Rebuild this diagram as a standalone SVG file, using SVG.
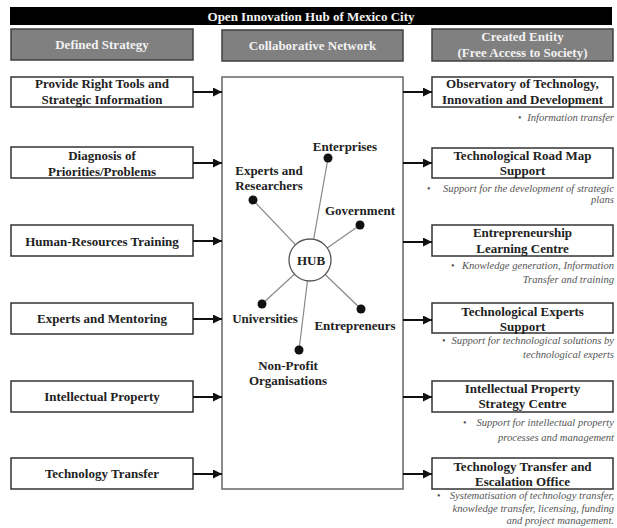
<svg xmlns="http://www.w3.org/2000/svg" width="617" height="528" viewBox="0 0 617 528">
<defs>
<marker id="ah" viewBox="0 0 10 10" refX="10" refY="5" markerWidth="10" markerHeight="9" markerUnits="userSpaceOnUse" orient="auto">
<path d="M0,0 L10,5 L0,10 z" fill="#111"/>
</marker>
<style>
.t{font-family:"Liberation Serif","Times New Roman",serif;font-weight:bold;font-size:13px;fill:#222;text-anchor:middle}
.w{font-family:"Liberation Serif","Times New Roman",serif;font-weight:bold;font-size:13px;fill:#f2f2f2;text-anchor:middle}
.d{font-family:"Liberation Serif","Times New Roman",serif;font-style:italic;font-size:10.6px;fill:#555;text-anchor:end}
.b{font-family:"Liberation Serif","Times New Roman",serif;font-size:10px;fill:#555}
.box{fill:#fff;stroke:#333;stroke-width:1.5}
.hdr{fill:#808080;stroke:#404040;stroke-width:1.5}
.arr{stroke:#111;stroke-width:2;fill:none}
.sp{stroke:#888;stroke-width:1.2}
</style>
</defs>
<rect width="617" height="528" fill="#fff"/>

<g id="title">
<rect x="10" y="7" width="602" height="18" fill="#000"/>
<text class="w" x="311" y="21" fill="#fff">Open Innovation Hub of Mexico City</text>
</g>

<g id="hdr-strategy"><rect class="hdr" x="11" y="29" width="182" height="31"/><text class="w" x="102" y="49">Defined Strategy</text></g>
<g id="hdr-network"><rect class="hdr" x="222" y="30" width="181" height="31"/><text class="w" x="312.5" y="50">Collaborative Network</text></g>
<g id="hdr-entity"><rect class="hdr" x="432" y="29" width="181" height="32"/><text class="w" x="522.5" y="41">Created Entity</text><text class="w" x="522.5" y="57">(Free Access to Society)</text></g>

<g id="s1"><rect class="box" x="11" y="77" width="182" height="30"/><text class="t" x="102" y="88">Provide Right Tools and</text><text class="t" x="102" y="104">Strategic Information</text></g>
<g id="s2"><rect class="box" x="11" y="147" width="182" height="31"/><text class="t" x="102" y="160">Diagnosis of</text><text class="t" x="102" y="176">Priorities/Problems</text></g>
<g id="s3"><rect class="box" x="11" y="225" width="182" height="31"/><text class="t" x="102" y="246">Human-Resources Training</text></g>
<g id="s4"><rect class="box" x="11" y="303" width="182" height="31"/><text class="t" x="102" y="323">Experts and Mentoring</text></g>
<g id="s5"><rect class="box" x="11" y="381" width="182" height="31"/><text class="t" x="102" y="401">Intellectual Property</text></g>
<g id="s6"><rect class="box" x="11" y="458" width="182" height="31"/><text class="t" x="102" y="478">Technology Transfer</text></g>

<g id="network">
<rect x="222" y="77" width="181" height="412" fill="#fff" stroke="#666" stroke-width="1.5"/>
</g>

<g id="spokes">
<line class="sp" x1="310" y1="260" x2="328" y2="158"/>
<line class="sp" x1="310" y1="260" x2="253" y2="200"/>
<line class="sp" x1="310" y1="260" x2="360" y2="225"/>
<line class="sp" x1="310" y1="260" x2="262" y2="304"/>
<line class="sp" x1="310" y1="260" x2="361" y2="309"/>
<line class="sp" x1="310" y1="260" x2="299" y2="350"/>
</g>

<g id="hub"><circle cx="310" cy="260" r="21" fill="#fff" stroke="#555" stroke-width="1.3"/><text class="t" x="311" y="265">HUB</text></g>
<g id="enterprises"><circle cx="328" cy="158" r="4.5" fill="#111"/><text class="t" x="345" y="151">Enterprises</text></g>
<g id="experts"><circle cx="253" cy="200" r="4.5" fill="#111"/><text class="t" x="269" y="175">Experts and</text><text class="t" x="269" y="190">Researchers</text></g>
<g id="government"><circle cx="360" cy="225" r="4.5" fill="#111"/><text class="t" x="360" y="215">Government</text></g>
<g id="universities"><circle cx="262" cy="304" r="4.5" fill="#111"/><text class="t" x="265" y="323">Universities</text></g>
<g id="entrepreneurs"><circle cx="361" cy="309" r="4.5" fill="#111"/><text class="t" x="355" y="330">Entrepreneurs</text></g>
<g id="nonprofit"><circle cx="299" cy="350" r="4.5" fill="#111"/><text class="t" x="288" y="370">Non-Profit</text><text class="t" x="288" y="385">Organisations</text></g>

<g id="e1"><rect class="box" x="432" y="77" width="181" height="30"/><text class="t" x="522.5" y="88">Observatory of Technology,</text><text class="t" x="522.5" y="104">Innovation and Development</text>
<text class="b" x="518" y="121">•</text><text class="d" x="614" y="121">Information transfer</text></g>
<g id="e2"><rect class="box" x="432" y="148" width="181" height="30"/><text class="t" x="522.5" y="160">Technological Road Map</text><text class="t" x="522.5" y="175">Support</text>
<text class="b" x="427" y="192">•</text><text class="d" x="614" y="192">Support for the development of strategic</text><text class="d" x="614" y="203">plans</text></g>
<g id="e3"><rect class="box" x="432" y="225" width="181" height="31"/><text class="t" x="522.5" y="237">Entrepreneurship</text><text class="t" x="522.5" y="253">Learning Centre</text>
<text class="b" x="451" y="269">•</text><text class="d" x="614" y="269">Knowledge generation, Information</text><text class="d" x="614" y="283">Transfer and training</text></g>
<g id="e4"><rect class="box" x="432" y="303" width="181" height="30"/><text class="t" x="522.5" y="316">Technological Experts</text><text class="t" x="522.5" y="331">Support</text>
<text class="b" x="442" y="344">•</text><text class="d" x="614" y="344">Support for technological solutions by</text><text class="d" x="614" y="358">technological experts</text></g>
<g id="e5"><rect class="box" x="432" y="381" width="181" height="31"/><text class="t" x="522.5" y="393">Intellectual Property</text><text class="t" x="522.5" y="408">Strategy Centre</text>
<text class="b" x="463" y="426">•</text><text class="d" x="614" y="426">Support for intellectual property</text><text class="d" x="614" y="441">processes and management</text></g>
<g id="e6"><rect class="box" x="432" y="458" width="181" height="31"/><text class="t" x="522.5" y="471">Technology Transfer and</text><text class="t" x="522.5" y="486">Escalation Office</text>
<text class="b" x="437" y="499">•</text><text class="d" x="614" y="499">Systematisation of technology transfer,</text><text class="d" x="614" y="511.5">knowledge transfer, licensing, funding</text><text class="d" x="614" y="524">and project management.</text></g>

<g id="connectors">
<line class="arr" x1="193" y1="92" x2="222" y2="92" marker-end="url(#ah)"/>
<line class="arr" x1="193" y1="163" x2="222" y2="163" marker-end="url(#ah)"/>
<line class="arr" x1="193" y1="241" x2="222" y2="241" marker-end="url(#ah)"/>
<line class="arr" x1="193" y1="319" x2="222" y2="319" marker-end="url(#ah)"/>
<line class="arr" x1="193" y1="397" x2="222" y2="397" marker-end="url(#ah)"/>
<line class="arr" x1="193" y1="474" x2="222" y2="474" marker-end="url(#ah)"/>
<line class="arr" x1="403" y1="92" x2="432" y2="92" marker-end="url(#ah)"/>
<line class="arr" x1="403" y1="163" x2="432" y2="163" marker-end="url(#ah)"/>
<line class="arr" x1="403" y1="242" x2="432" y2="242" marker-end="url(#ah)"/>
<line class="arr" x1="403" y1="320" x2="432" y2="320" marker-end="url(#ah)"/>
<line class="arr" x1="403" y1="397" x2="432" y2="397" marker-end="url(#ah)"/>
<line class="arr" x1="403" y1="474" x2="432" y2="474" marker-end="url(#ah)"/>
</g>
</svg>
